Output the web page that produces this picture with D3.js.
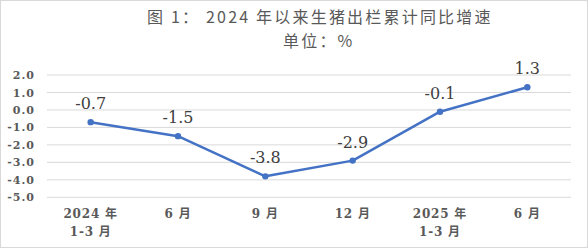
<!DOCTYPE html>
<html>
<head>
<meta charset="utf-8">
<script src="https://cdn.jsdelivr.net/npm/d3@7"></script>
<style>
  body { margin: 0; background: #fff; }
  svg { display: block; }
</style>
</head>
<body>
<svg id="chart" width="588" height="248"></svg>
<script>
// data
const periods = [["2024 年", "1-3 月"], ["6 月"], ["9 月"], ["12 月"], ["2025 年", "1-3 月"], ["6 月"]];
const growth = [-0.7, -1.5, -3.8, -2.9, -0.1, 1.3];
const yTicks = [2, 1, 0, -1, -2, -3, -4, -5];
const titleMain = ["图 1：", "2024 年以来生猪出栏累计同比增速"];
const titleUnit = "单位：%";

const svg = d3.select("#chart");
const W = 588, H = 248;
const plotLeft = 47, plotRight = 571, plotTop = 75, plotBottom = 197.3;

// outer border
svg.append("rect")
  .attr("x", 0.5).attr("y", 0.5)
  .attr("width", W - 1).attr("height", H - 1)
  .attr("fill", "#fff")
  .attr("stroke", "#d9d9d9");

// title
const title = svg.append("text")
  .attr("y", 23)
  .style("font-family", "'Noto Sans CJK SC', sans-serif")
  .style("font-size", "16px")
  .style("letter-spacing", "2.2px")
  .style("fill", "#595959");
title.selectAll("tspan")
  .data(titleMain)
  .enter()
  .append("tspan")
  .attr("x", (d, i) => i == 0 ? 147 : 206)
  .text(d => d);

svg.append("text")
  .attr("x", 283)
  .attr("y", 47)
  .style("font-family", "'Noto Sans CJK SC', sans-serif")
  .style("font-size", "16px")
  .style("letter-spacing", "2.2px")
  .style("fill", "#595959")
  .text(titleUnit);

const x = d3.scaleBand()
  .domain(d3.range(periods.length))
  .range([plotLeft, plotRight]);

const y = d3.scaleLinear()
  .domain([-5, 2])
  .range([plotBottom, plotTop]);

// gridlines
svg.append("g")
  .selectAll("line")
  .data(yTicks)
  .enter()
  .append("line")
  .attr("x1", plotLeft).attr("x2", plotRight)
  .attr("y1", d => y(d)).attr("y2", d => y(d))
  .attr("stroke", "#d9d9d9")
  .attr("stroke-width", 1);

// y axis labels
const yAxis = svg.append("g")
  .attr("transform", "translate(35,0)")
  .call(d3.axisLeft(y).tickValues(yTicks).tickSize(0).tickPadding(0));
yAxis.select(".domain").remove();
yAxis.selectAll("text")
  .style("font-family", "'DejaVu Serif', serif")
  .style("font-weight", "bold")
  .style("font-size", "11px")
  .style("letter-spacing", "1px")
  .style("fill", "#595959")
  .text(d => d.toFixed(1));

// x axis labels
const xLabels = svg.append("g")
  .selectAll("text")
  .data(periods)
  .enter()
  .append("text")
  .attr("x", (d, i) => x(i) + x.bandwidth() / 2)
  .attr("y", 218)
  .attr("text-anchor", "middle")
  .style("font-family", "'DejaVu Serif', 'Noto Sans CJK SC', serif")
  .style("font-weight", "bold")
  .style("font-size", "12px")
  .style("letter-spacing", "0.8px")
  .style("fill", "#595959");
xLabels.selectAll("tspan")
  .data(d => d)
  .enter()
  .append("tspan")
  .attr("x", function () { return d3.select(this.parentNode).attr("x"); })
  .attr("dy", (d, i) => i == 0 ? 0 : 18)
  .text(d => d);

// line
const line = d3.line()
  .x((d, i) => x(i) + x.bandwidth() / 2)
  .y(d => y(d));

svg.append("path")
  .datum(growth)
  .attr("d", line)
  .attr("fill", "none")
  .attr("stroke", "#4472c4")
  .attr("stroke-width", 2.5)
  .attr("stroke-linejoin", "round");

svg.append("g")
  .selectAll("circle")
  .data(growth)
  .enter()
  .append("circle")
  .attr("cx", (d, i) => x(i) + x.bandwidth() / 2)
  .attr("cy", d => y(d))
  .attr("r", 3.2)
  .attr("fill", "#4472c4");

// value labels
svg.append("g")
  .selectAll("text")
  .data(growth)
  .enter()
  .append("text")
  .attr("x", (d, i) => x(i) + x.bandwidth() / 2)
  .attr("y", d => y(d) - 13)
  .attr("text-anchor", "middle")
  .style("font-family", "'DejaVu Serif', serif")
  .style("font-size", "16px")
  .style("fill", "#404040")
  .text(d => d.toFixed(1));
</script>
</body>
</html>
